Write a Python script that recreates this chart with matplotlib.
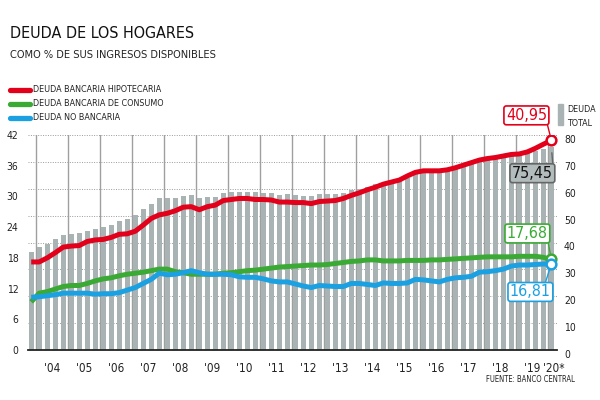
import matplotlib
matplotlib.use('Agg')
import matplotlib.pyplot as plt
from matplotlib.lines import Line2D
from matplotlib.patches import Rectangle
import numpy as np

plt.rcParams['font.family'] = ['DejaVu Sans']
plt.rcParams['font.stretch'] = 'condensed'

# ── Data (quarterly, 2003-Q4 .. 2020-Q1) ────────────────────────────────────

hipotecaria = [17.2, 17.2, 18.0, 19.0, 20.1, 20.3, 20.4, 21.2, 21.5, 21.6,
               22.0, 22.6, 22.7, 23.2, 24.4, 25.7, 26.4, 26.7, 27.2, 27.9,
               28.0, 27.4, 28.0, 28.3, 29.2, 29.4, 29.6, 29.6, 29.4, 29.4,
               29.3, 28.9, 28.9, 28.8, 28.8, 28.6, 29.0, 29.1, 29.2, 29.6,
               30.2, 30.7, 31.3, 31.8, 32.4, 32.8, 33.2, 34.0, 34.7, 35.0,
               35.0, 35.0, 35.2, 35.6, 36.1, 36.6, 37.1, 37.4, 37.6, 37.9,
               38.2, 38.3, 38.7, 39.4, 40.2, 40.95]
consumo = [9.4, 11.1, 11.4, 11.9, 12.4, 12.6, 12.6, 13.0, 13.5, 13.9,
           14.1, 14.5, 14.8, 15.0, 15.2, 15.5, 15.8, 15.8, 15.3, 15.1,
           14.8, 14.8, 14.8, 14.8, 15.0, 15.1, 15.3, 15.5, 15.6, 15.8,
           16.0, 16.2, 16.3, 16.4, 16.5, 16.6, 16.6, 16.7, 16.9, 17.1,
           17.3, 17.4, 17.6, 17.6, 17.4, 17.4, 17.4, 17.5, 17.5, 17.5,
           17.6, 17.6, 17.7, 17.8, 17.9, 18.0, 18.1, 18.2, 18.2, 18.2,
           18.2, 18.3, 18.3, 18.3, 18.1, 17.68]
no_bancaria = [10.3, 10.4, 10.6, 10.8, 11.1, 11.1, 11.1, 11.1, 10.9, 11.0,
               11.0, 11.2, 11.7, 12.2, 13.0, 13.8, 15.0, 14.7, 14.8, 15.1,
               15.5, 15.1, 14.8, 14.8, 14.8, 14.7, 14.3, 14.2, 14.2, 13.9,
               13.5, 13.3, 13.3, 12.9, 12.5, 12.2, 12.6, 12.5, 12.4, 12.4,
               13.0, 13.0, 12.8, 12.6, 13.1, 13.0, 13.0, 13.1, 13.8, 13.7,
               13.5, 13.3, 13.8, 14.1, 14.2, 14.4, 15.2, 15.3, 15.5, 15.8,
               16.4, 16.6, 16.6, 16.7, 16.8, 16.81]
total = [36.6, 38.4, 39.6, 41.2, 42.7, 43.0, 43.4, 44.4, 45.1, 45.8,
         46.5, 48.0, 48.7, 50.2, 52.3, 54.3, 56.4, 56.4, 56.7, 57.4,
         57.5, 56.4, 56.9, 56.9, 58.4, 58.8, 58.9, 58.9, 58.8, 58.5,
         58.4, 57.6, 58.0, 57.6, 57.3, 57.3, 57.9, 57.9, 57.9, 58.4,
         59.7, 60.0, 60.8, 61.6, 62.3, 62.6, 63.0, 64.0, 65.5, 66.0,
         66.3, 66.3, 66.8, 67.4, 68.3, 69.2, 70.0, 70.6, 71.0, 71.6,
         72.2, 72.5, 73.2, 74.0, 74.8, 75.45]

year_labels = ["'04", "'05", "'06", "'07", "'08", "'09", "'10", "'11", "'12",
               "'13", "'14", "'15", "'16", "'17", "'18", "'19", "'20*"]
left_ticks = [0, 6, 12, 18, 24, 30, 36, 42]
right_ticks = [0, 10, 20, 30, 40, 50, 60, 70, 80]

RED = '#e2001a'
GREEN = '#3aaa35'
BLUE = '#1ba1e2'
BAR = '#aab3b3'

x = np.arange(len(total))

# ── Figure ──────────────────────────────────────────────────────────────────

fig = plt.figure(figsize=(6, 4), dpi=100)
ax = fig.add_axes([28/600, 50/400, 529/600, 215/400])
ax2 = ax.twinx()
ax.set_zorder(ax2.get_zorder() + 1)
ax.patch.set_visible(False)

# bars (right axis)
ax2.bar(x, total, width=0.58, color=BAR, zorder=2)
ax2.set_ylim(0, 80)
ax2.set_yticks(right_ticks)
for t in right_ticks[1:]:
    ax2.axhline(t, color='#9a9a9a', linestyle=(0, (1, 1.5)), linewidth=0.7, zorder=1)

# year gridlines
year_starts = 0.6 + 4 * np.arange(17)
for xs in year_starts:
    ax2.axvline(xs, color='#a0a0a0', linewidth=1.0, zorder=1)

# lines (left axis)
lw = 3.6
ax.plot(x, hipotecaria, color=RED, lw=lw, solid_capstyle='butt', zorder=3)
ax.plot(x, consumo, color=GREEN, lw=lw, solid_capstyle='butt', zorder=3)
ax.plot(x, no_bancaria, color=BLUE, lw=lw, solid_capstyle='butt', zorder=4)
ax.set_ylim(0, 42)
ax.set_xlim(-0.4, 65.7)
ax.set_yticks(left_ticks)

last = len(x) - 1
for series, col in [(hipotecaria, RED), (consumo, GREEN), (no_bancaria, BLUE)]:
    ax.plot(x[last], series[last], 'o', ms=7, mfc='white', mec=col, mew=1.8, zorder=6)

# x ticks at year centres
centres = list(year_starts[:-1] + 2) + [65.3]
ax.set_xticks(centres)
ax.set_xticklabels(year_labels)

for a in (ax, ax2):
    for s in a.spines.values():
        s.set_visible(False)
    a.tick_params(length=0, colors='#222222', labelsize=7.5)
ax.spines['bottom'].set_visible(True)
ax.spines['bottom'].set_linewidth(1.3)
ax.spines['bottom'].set_color('#222222')
ax.tick_params(axis='x', pad=9, labelsize=8.5)
ax.tick_params(axis='y', pad=7)
ax2.tick_params(axis='y', pad=5)
for lab in ax2.get_yticklabels():
    lab.set_verticalalignment('top')

# ── Annotations ─────────────────────────────────────────────────────────────

def fmt(v):
    return f'{v:.2f}'.replace('.', ',')

def callout(axis, xv, yv, text, col, face, tcol, off, rel):
    axis.annotate(text, xy=(xv, yv), xycoords='data',
                  xytext=off, textcoords='offset pixels',
                  ha='center', va='center', fontsize=11.5, color=tcol, zorder=7,
                  bbox=dict(boxstyle='round,pad=0.12,rounding_size=0.15',
                            fc=face, ec=col, lw=1.2),
                  arrowprops=dict(arrowstyle='-', color=col, lw=1.0,
                                  relpos=rel, shrinkA=0, shrinkB=4))

callout(ax, x[last], hipotecaria[last], fmt(hipotecaria[last]), RED, 'white', RED,
        (-25, 25), (1, 0))
callout(ax, x[last], consumo[last], fmt(consumo[last]), GREEN, 'white', GREEN,
        (-24, 26), (1, 0))
callout(ax, x[last], no_bancaria[last], fmt(no_bancaria[last]), BLUE, 'white', BLUE,
        (-21, -28), (0.85, 1))
callout(ax2, x[last], total[last], fmt(total[last]), '#666666', '#b3bcbc', '#111111',
        (-19, -26), (1, 1))

# ── Titles, legend, source ──────────────────────────────────────────────────

fig.text(10/600, 1 - 33/400, 'DEUDA DE LOS HOGARES', fontsize=11.5,
         va='center', ha='left', color='#111111')
fig.text(10/600, 1 - 55/400, 'COMO % DE SUS INGRESOS DISPONIBLES', fontsize=7.9,
         va='center', ha='left', color='#222222')

legend_items = [('DEUDA BANCARIA HIPOTECARIA', RED),
                ('DEUDA BANCARIA DE CONSUMO', GREEN),
                ('DEUDA NO BANCARIA', BLUE)]
for i, (lab, col) in enumerate(legend_items):
    yy = 1 - (90 + 14 * i) / 400
    fig.add_artist(Line2D([10/600, 30/600], [yy, yy], color=col, lw=3.8,
                          solid_capstyle='round', transform=fig.transFigure))
    fig.text(33/600, yy, lab, fontsize=6.4, va='center', ha='left', color='#222222')

fig.add_artist(Rectangle((558/600, 1 - 125/400), 5/600, 21/400, color=BAR,
                         transform=fig.transFigure))
fig.text(567/600, 1 - 110/400, 'DEUDA', fontsize=6.4, va='center', ha='left', color='#222222')
fig.text(567/600, 1 - 123/400, 'TOTAL', fontsize=6.4, va='center', ha='left', color='#222222')

fig.text(575/600, 1 - 380/400, 'FUENTE: BANCO CENTRAL', fontsize=5.5,
         va='center', ha='right', color='#222222')

plt.savefig('out.png', dpi=100)
